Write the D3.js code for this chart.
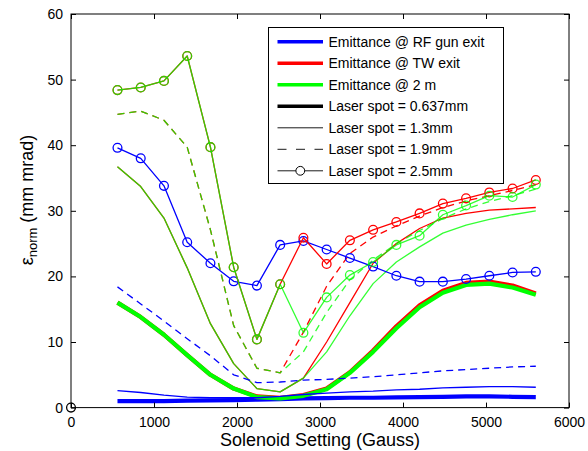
<!DOCTYPE html>
<html><head><meta charset="utf-8">
<script src="https://cdn.jsdelivr.net/npm/d3@7"></script>
<style>body{margin:0;background:#fff}svg{display:block}</style>
</head><body>
<svg id="c" width="588" height="451"></svg>
<script>
// ---- data ----
const solenoid = [560,840,1120,1400,1680,1960,2240,2520,2800,3080,3360,3640,3920,4200,4480,4760,5040,5320,5600];

const gun_0637 = [1.0,1.0,1.0,1.05,1.1,1.15,1.2,1.3,1.4,1.45,1.5,1.5,1.55,1.6,1.65,1.7,1.7,1.65,1.6];
const gun_13   = [2.6,2.3,1.9,1.6,1.5,1.5,1.5,1.7,2.0,2.2,2.4,2.5,2.7,2.8,3.0,3.1,3.2,3.2,3.1];
const gun_19   = [18.4,15.8,13.2,10.5,7.9,5.0,3.8,3.9,4.2,4.3,4.5,4.7,5.0,5.3,5.6,5.8,6.0,6.2,6.3];
const gun_25   = [39.6,38.0,33.8,25.2,22.0,19.25,18.6,24.8,25.4,24.1,22.8,21.5,20.1,19.2,19.2,19.6,20.1,20.6,20.7];

const tw_0637 = [16.0,13.8,11.1,8.0,5.0,2.9,1.7,1.5,1.9,2.9,5.4,8.7,12.4,15.6,17.8,19.0,19.2,18.6,17.4];
const tw_13   = [36.7,33.7,28.9,21.3,12.8,6.7,2.9,2.4,4.5,10.0,16.0,22.0,25.0,27.3,28.9,29.6,30.1,30.3,30.5];
const tw_19   = [44.7,45.2,43.8,39.7,27.1,12.5,6.0,5.3,11.5,18.5,23.5,26.0,27.7,29.2,30.5,31.5,32.3,33.1,34.0];
const tw_25   = [48.4,48.8,49.8,53.6,39.7,21.4,10.4,18.8,25.9,21.9,25.5,27.1,28.3,29.6,31.1,31.9,32.8,33.4,34.7];

const m2_0637 = [16.0,13.8,11.1,8.0,5.0,2.9,1.6,1.4,1.8,2.8,5.3,8.5,12.1,15.3,17.5,18.7,18.9,18.3,17.2];
const m2_13   = [36.7,33.7,28.9,21.3,12.8,6.7,2.9,2.4,4.5,8.5,14.0,18.9,22.2,24.5,26.6,27.8,28.7,29.4,30.0];
const m2_19   = [44.7,45.2,43.8,39.7,27.1,12.5,6.0,5.3,8.5,14.5,19.5,22.5,25.0,27.0,28.8,30.3,31.4,32.3,33.3];
const m2_25   = [48.4,48.8,49.8,53.6,39.7,21.4,10.4,18.8,11.4,16.8,20.2,22.2,24.8,26.2,29.4,30.8,32.3,32.1,34.0];

const xTicks = [0,1000,2000,3000,4000,5000,6000];
const yTicks = [0,10,20,30,40,50,60];

const locations = ["Emittance @ RF gun exit","Emittance @ TW exit","Emittance @ 2 m"];
const locationColors = ["#0000ff","#ff0000","#00ff00"];
const spots = ["Laser spot = 0.637mm","Laser spot = 1.3mm","Laser spot = 1.9mm","Laser spot = 2.5mm"];
const dummyPoint = [[0,0]];

// ---- styles ----
const spotStyle = [
  {w:4.2, dash:null, marker:false},
  {w:1.3, dash:null, marker:false},
  {w:1.3, dash:"7,5", marker:false},
  {w:1.3, dash:null, marker:true}
];
const seriesByLoc = [
  [gun_0637,gun_13,gun_19,gun_25],
  [tw_0637,tw_13,tw_19,tw_25],
  [m2_0637,m2_13,m2_19,m2_25]
];

const FONT = "'Liberation Sans', Arial, Helvetica, sans-serif";
const svg = d3.select("#c");
const x = d3.scaleLinear().domain([0,6000]).range([71,569]);
const y = d3.scaleLinear().domain([0,60]).range([407.6,14]);

svg.append("rect").attr("width",588).attr("height",451).attr("fill","#fff");

// plot lines: order by spot, then location (green on top of red)
const lineGen = d3.line().x(d=>x(d[0])).y(d=>y(d[1]));
const plotG = svg.append("g");
[0,1,2,3].forEach(si=>{
  [0,1,2].forEach(li=>{
    const vals = seriesByLoc[li][si];
    const pts = solenoid.map((s,i)=>[s,vals[i]]);
    const st = spotStyle[si];
    const op = (li===2 && si>0) ? 0.8 : 1;
    plotG.append("path").datum(pts)
      .attr("d",lineGen).attr("fill","none")
      .attr("stroke",locationColors[li]).attr("stroke-width",st.w)
      .attr("stroke-opacity",op)
      .attr("stroke-linejoin","round")
      .attr("stroke-dasharray",st.dash);
    if(st.marker){
      plotG.selectAll(null).data(pts).enter().append("circle")
        .attr("cx",d=>x(d[0])).attr("cy",d=>y(d[1])).attr("r",4.4)
        .attr("fill","none").attr("stroke",locationColors[li]).attr("stroke-width",1.3)
        .attr("stroke-opacity",op);
    }
  });
});

// axes box
svg.append("rect").attr("x",x(0)).attr("y",y(60)).attr("width",x(6000)-x(0)).attr("height",y(0)-y(60))
  .attr("fill","none").attr("stroke","#000").attr("stroke-width",1);

const axB = d3.axisBottom(x).tickValues(xTicks).tickSize(-5).tickPadding(9).tickFormat(d3.format("d"));
const axT = d3.axisTop(x).tickValues(xTicks).tickSize(-5).tickFormat("");
const axL = d3.axisLeft(y).tickValues(yTicks).tickSize(-5).tickPadding(8).tickFormat(d3.format("d"));
const axR = d3.axisRight(y).tickValues(yTicks).tickSize(-5).tickFormat("");
function styleAx(g){
  g.select(".domain").remove();
  g.selectAll(".tick line").attr("stroke","#000").attr("stroke-width",1);
  g.selectAll(".tick text").attr("fill","#000").style("font-family",FONT).style("font-size","14px");
}
svg.append("g").attr("transform",`translate(0,${y(0)})`).call(axB).call(styleAx);
svg.append("g").attr("transform",`translate(0,${y(60)})`).call(axT).call(styleAx);
svg.append("g").attr("transform",`translate(${x(0)},0)`).call(axL).call(styleAx);
svg.append("g").attr("transform",`translate(${x(6000)},0)`).call(axR).call(styleAx);

// dummy legend point at origin
svg.selectAll(null).data(dummyPoint).enter().append("circle")
  .attr("cx",d=>x(d[0])).attr("cy",d=>y(d[1])).attr("r",4.4)
  .attr("fill","none").attr("stroke","#000").attr("stroke-width",1.3);

// axis titles
svg.append("text").attr("x",(x(0)+x(6000))/2).attr("y",446).attr("text-anchor","middle")
  .style("font-family",FONT).style("font-size","18px").text("Solenoid Setting (Gauss)");
const yl = svg.append("text").attr("transform","translate(33,200) rotate(-90)").attr("text-anchor","middle")
  .style("font-family",FONT).style("font-size","18px");
yl.append("tspan").text("ε");
yl.append("tspan").attr("dy",4).style("font-size","13px").text("norm");
yl.append("tspan").attr("dy",-4).text(" (mm mrad)");

// legend
const lg = svg.append("g");
lg.append("rect").attr("x",268.5).attr("y",27.5).attr("width",235).attr("height",156)
  .attr("fill","#fff").attr("stroke","#000").attr("stroke-width",1);
const legendItems = locations.map((t,i)=>({text:t,color:locationColors[i],w:3.5,dash:null,marker:false}))
  .concat(spots.map((t,i)=>({text:t,color:"#000",w:spotStyle[i].w===1.3?0.9:3.5,dash:spotStyle[i].dash,marker:spotStyle[i].marker})));
legendItems.forEach((it,i)=>{
  const yy = 41.8 + i*21.5;
  lg.append("line").attr("x1",277.5).attr("x2",323).attr("y1",yy).attr("y2",yy)
    .attr("stroke",it.color).attr("stroke-width",it.w).attr("stroke-dasharray",it.dash?"9,9.5":null);
  if(it.marker) lg.append("circle").attr("cx",300.3).attr("cy",yy).attr("r",4.4)
    .attr("fill","#fff").attr("stroke","#000").attr("stroke-width",1);
  lg.append("text").attr("x",328.5).attr("y",yy+5).style("font-family",FONT).style("font-size","14px").text(it.text);
});
</script>
</body></html>
